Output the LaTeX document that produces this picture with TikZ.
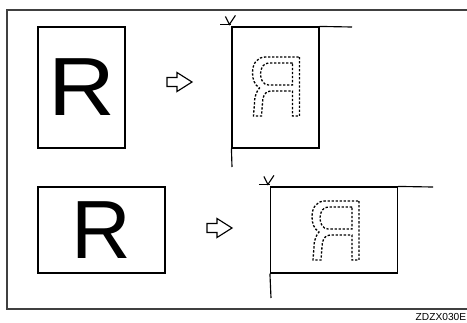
\documentclass[tikz,border=0pt]{standalone}
\usepackage{fontspec}
\newfontfamily\diagfont{Liberation Sans}

\begin{document}
\begin{tikzpicture}[x=0.2mm,y=-0.2mm,frame/.style={line width=0.9pt,draw=black!75},sheet/.style={rectangle,draw,line width=0.65pt,inner sep=0pt,font=\diagfont\fontsize{47}{47}\selectfont},tall/.style={sheet,minimum width=17.4mm,minimum height=24.2mm},wide/.style={sheet,minimum width=25.4mm,minimum height=17.2mm},glass/.style={line width=0.65pt},hollow/.style={line width=0.65pt,fill=white,line join=miter},ghost/.style={line width=0.75pt,dash pattern=on 1.3pt off 1pt},
cornermark/.pic={\draw[glass] (-11,-2) -- (0,-2);
\draw[glass] (-6,-10) -- (-2,-2) -- (4,-11);},
turnarrow/.pic={\draw[hollow] (0,-4.5) -- (10,-4.5) -- (10,-9.5) -- (25,0) -- (10,9.5) -- (10,4.5) -- (0,4.5) -- cycle;},
mirrorR/.pic={\draw[ghost] (48,0) -- (48,59) -- (41,59) -- (41,34) -- (19,34) .. controls (13,34) and (11,40) .. (11,46) -- (10,59) -- (2,59) -- (3,46) .. controls (3,38) and (6,33) .. (8,31) .. controls (3,28) and (1,22) .. (1,16) .. controls (1,6) and (6,0) .. (14,0) -- cycle;
\draw[ghost] (41,6) -- (17,6) .. controls (12,6) and (9,11) .. (9,17) .. controls (9,23) and (12,28) .. (17,28) -- (41,28) -- cycle;}]
\useasboundingbox (0,0) rectangle (467,322);
\coordinate (F1) at (467,10);
\coordinate (F2) at (7,10);
\coordinate (F3) at (7,309);
\coordinate (F4) at (467,309);
\coordinate (T1) at (352,27);
\coordinate (L1) at (232,167);
\coordinate (T2) at (433,187);
\coordinate (L2) at (271,298);
\draw[frame] (F1) -- (F2) -- (F3) -- (F4);
\node[tall] (orig1) at (81.5,87.5) {\scalebox{1.12}[1]{R}};
\node[wide] (orig2) at (101.5,230) {R};
\node[tall] (copy1) at (275.5,87.5) {};
\node[wide] (copy2) at (334,230) {};
\draw[glass] (copy1.north east) -- (T1);
\draw[glass] (copy1.south west) -- (L1);
\draw[glass] (copy2.north east) -- (T2);
\draw[glass] (copy2.south west) -- (L2);
\pic at (copy1.north west) {cornermark};
\pic at (copy2.north west) {cornermark};
\pic at (167,82) {turnarrow};
\pic at (207,228) {turnarrow};
\pic at (251.5,57) {mirrorR};
\pic at (311,201) {mirrorR};
\node[font=\diagfont\fontsize{5.8}{6}\selectfont,anchor=north east,inner sep=0pt] (code) at (466.5,313.5) {ZDZX030E};
\end{tikzpicture}
\end{document}
